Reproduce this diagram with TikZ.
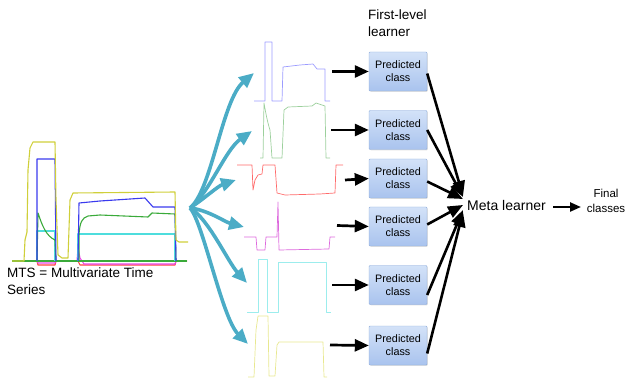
\documentclass[tikz,border=0pt]{standalone}
\usepackage{fontspec}
\setmainfont{Liberation Sans}
\usetikzlibrary{arrows.meta,calc,shadows}
\definecolor{tealarrow}{HTML}{4BACC6}
\definecolor{boxtop}{HTML}{D3E2F8}
\definecolor{boxbot}{HTML}{A9C3EE}
\definecolor{boxline}{HTML}{8FADDB}
\definecolor{cY}{HTML}{CFCF3A}
\definecolor{cB}{HTML}{3A3AEE}
\definecolor{cG}{HTML}{3AAA3A}
\definecolor{cC}{HTML}{4EDDDD}
\definecolor{cR}{HTML}{FF4040}
\definecolor{cM}{HTML}{E848E8}
\definecolor{lB}{HTML}{9C9CFF}
\definecolor{lG}{HTML}{9CD09C}
\definecolor{lR}{HTML}{FF6A6A}
\definecolor{lM}{HTML}{DD6ADD}
\definecolor{lC}{HTML}{9CEDED}
\definecolor{lY}{HTML}{E8E890}
\begin{document}
\begin{tikzpicture}[x=1pt,y=-1pt,
  pbox/.style={draw=boxline, top color=boxtop, bottom color=boxbot, rounded corners=1pt,
    minimum width=58pt, minimum height=39pt, inner sep=0pt, align=center,
    font=\fontsize{10.8}{12.8}\selectfont,
    drop shadow={opacity=0.25, shadow xshift=0.8pt, shadow yshift=-0.8pt}},
  bigline/.style={line width=1.1pt, line join=round},
  small/.style={line width=0.7pt, line join=round},
  tarrow/.style={tealarrow, line width=3.6pt, -{Triangle[length=15pt,width=13pt]}},
  blk/.style={black, line width=2.7pt, -{Triangle[length=14pt,width=12pt]}},
  blkm/.style={black, line width=2.6pt, -{Triangle[length=15pt,width=12pt]}},
  blks/.style={black, line width=2.3pt, -{Triangle[length=11pt,width=9pt]}},
  lbl/.style={inner sep=0pt, align=left}
]
\useasboundingbox (0,0) rectangle (626,379);

% ---------- large MTS plot ----------
\draw[bigline, cR] (12,261) -- (37,261) -- (38,265) -- (55,265) -- (56,261) -- (78,261) -- (80,265) -- (175,265) -- (176,261) -- (187,261);
\draw[bigline, cM] (37,261) -- (38,263) -- (55,263) -- (56,261);
\draw[bigline, cM] (77,261) -- (78,248) -- (80,258) -- (84,264) -- (175,264) -- (176,261);
\draw[bigline, cG] (12,261) -- (187,261);
\draw[bigline, cC] (37,261) -- (37,231) -- (55,231) -- (55,261);
\draw[bigline, cC] (78,261) -- (78,234) -- (175,234) -- (175,261);
\draw[bigline, cG] (37,261) -- (38,213) .. controls (42,225) and (46,236) .. (55,240) -- (56,261);
\draw[bigline, cG] (79,261) -- (79,234) .. controls (80,222) and (82,218) .. (88,216) -- (100,215) -- (148,217) -- (152,213) -- (175,214) -- (176,261);
\draw[bigline, cB] (37,261) -- (37,159) -- (55,159) -- (56,261);
\draw[bigline, cB] (78,261) -- (79,203) -- (100,201) -- (145,198) -- (153,207) -- (175,207) -- (176,261);
\draw[bigline, cY] (12,261) -- (24,261) -- (25,240) -- (27,232) -- (28,170) -- (30,148) -- (33,142) -- (55,142) -- (56,200) -- (58,255) -- (62,258) -- (68,258) -- (70,200) -- (73,193) -- (175,192) -- (176,240) -- (179,242) -- (188,242);

\node[lbl, anchor=north west, font=\fontsize{13.5}{17}\selectfont] (mts) at (7,268) {MTS = Multivariate Time\\Series};

% ---------- small series ----------
\draw[small, lB] (254,101) -- (265,101) -- (265,42) -- (272,42) -- (272,101) -- (282,101) -- (283,67) -- (300,65) -- (313,64) -- (317,69) -- (325,69) -- (325,101) -- (330,101);
\draw[small, lG] (260,158) -- (263,158) -- (264,103) .. controls (266,115) and (268,124) .. (270,130) -- (272,158) -- (282,158) -- (284,110) -- (288,107) -- (312,106) -- (316,103) -- (325,106) -- (326,158) -- (330,158);
\draw[small, lR] (237,165) -- (252,165) -- (253,190) -- (255,180) -- (258,175) -- (262,174) -- (263,165) -- (275,165) -- (277,193) -- (285,195) -- (320,194) -- (335,193) -- (336,165) -- (343,165);
\draw[small, lM] (244,237) -- (256,237) -- (257,250) -- (265,250) -- (266,237) -- (277,237) -- (278,202) -- (279,250) -- (329,249) -- (330,237) -- (335,237);
\draw[small, lC] (247,312) -- (258,312) -- (258,259) -- (267,259) -- (267,312) -- (278,312) -- (278,262) -- (326,262) -- (326,312) -- (331,312);
\draw[small, lY] (248,377) -- (254,377) -- (256,330) -- (258,316) -- (268,316) -- (269,376) -- (275,376) -- (277,345) -- (279,342) -- (323,342) -- (324,377) -- (327,377);

% ---------- teal fan ----------
\coordinate (o) at (190,208);
\coordinate (t1) at (254,73);
\coordinate (t2) at (252,131);
\coordinate (t3) at (236,180);
\coordinate (t4) at (244,227);
\coordinate (t5) at (247,283);
\coordinate (t6) at (248,344);
\draw[tarrow] (o) .. controls (212,190) and (222,100) .. (t1);
\draw[tarrow] (o) .. controls (210,192) and (225,150) .. (t2);
\draw[tarrow] (o) .. controls (205,198) and (218,186) .. (t3);
\draw[tarrow] (o) .. controls (208,210) and (225,222) .. (t4);
\draw[tarrow] (o) .. controls (208,218) and (228,262) .. (t5);
\draw[tarrow] (o) .. controls (203,222) and (222,318) .. (t6);

% ---------- first-level learners ----------
\node[lbl, anchor=north west, font=\fontsize{13.5}{16.5}\selectfont] (fl) at (368,10) {First-level\\learner};
\node[pbox] (b1) at (398,71.5) {Predicted\\class};
\node[pbox] (b2) at (398,130) {Predicted\\class};
\node[pbox] (b3) at (398,178.5) {Predicted\\class};
\node[pbox] (b4) at (398,226.5) {Predicted\\class};
\node[pbox] (b5) at (398,285) {Predicted\\class};
\node[pbox] (b6) at (398,345.5) {Predicted\\class};

\coordinate (a1) at (332,71.5);
\coordinate (a2) at (331,130);
\coordinate (a3) at (345,180);
\coordinate (a4) at (337,225.5);
\coordinate (a5) at (332,285);
\coordinate (a6) at (330,345);
\draw[blk] (a1) -- (b1.west);
\draw[blk] (a2) -- (b2.west);
\draw[blk] (a3) -- (b3.west);
\draw[blk] (a4) -- (b4.west);
\draw[blk] (a5) -- (b5.west);
\draw[blk] (a6) -- (b6.west);

% ---------- meta learner ----------
\node[lbl, anchor=west, font=\fontsize{14}{16}\selectfont] (meta) at (467,205) {Meta learner};
\node[lbl, align=center, font=\fontsize{11.5}{15}\selectfont] (final) at (606,201) {Final\\classes};

\coordinate (m1) at (463,196);
\coordinate (m2) at (463,197);
\coordinate (m3) at (463,199);
\coordinate (m4) at (463,205);
\coordinate (m5) at (463,210);
\coordinate (m6) at (463,212);
\draw[blkm] ($(b1.east)+(0,2)$) -- (m1);
\draw[blkm] (b2.east) -- (m2);
\draw[blkm] ($(b3.east)+(0,3)$) -- (m3);
\draw[blkm] ($(b4.east)+(0,-2)$) -- (m4);
\draw[blkm] ($(b5.east)+(0,10)$) -- (m5);
\draw[blkm] ($(b6.east)+(0,8)$) -- (m6);

\draw[blks] (553,207) -- (581,207);
\end{tikzpicture}
\end{document}
